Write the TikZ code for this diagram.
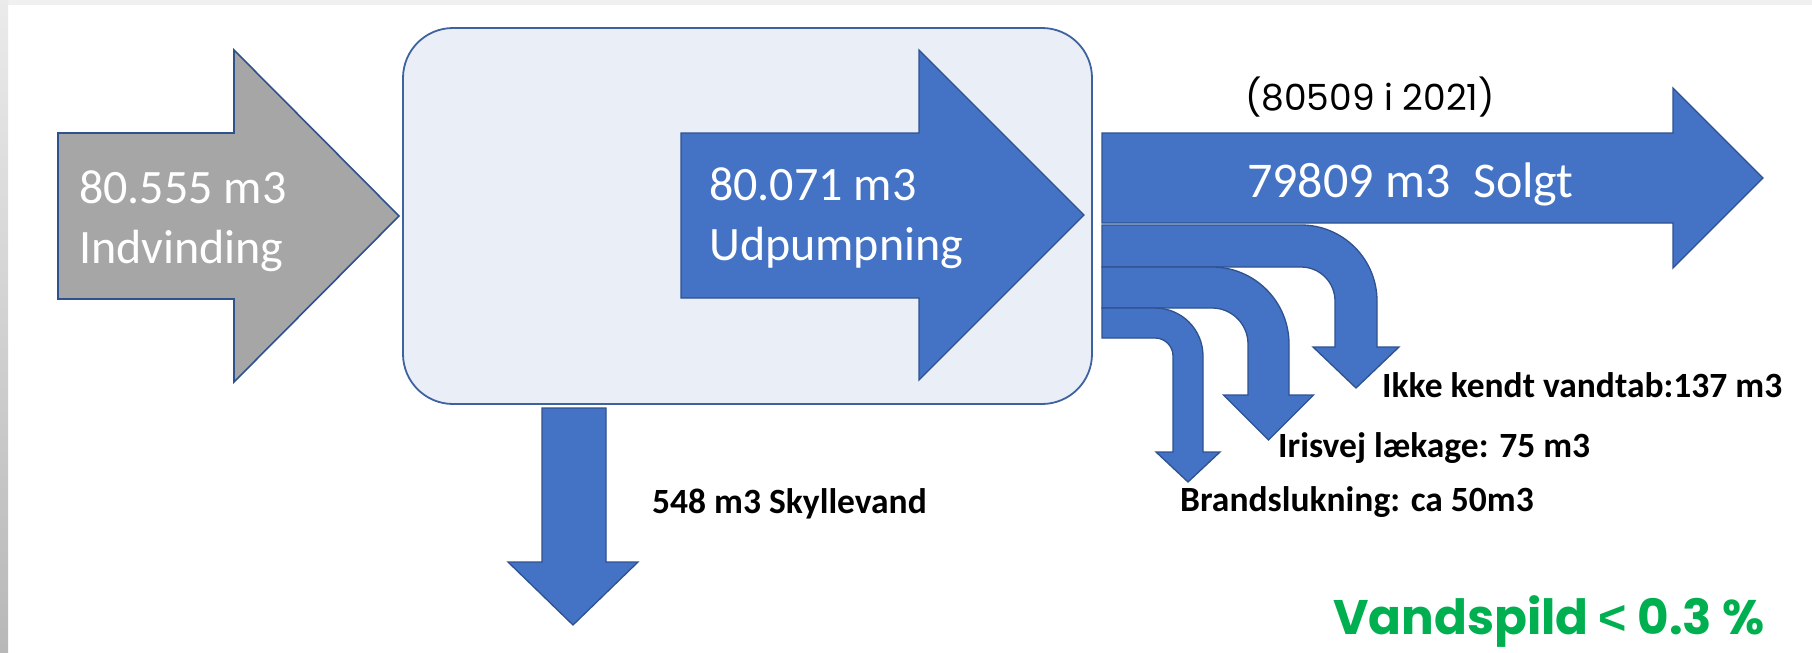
\documentclass[tikz,border=0pt]{standalone}
\usepackage{fontspec}
\setmainfont{Carlito}
\newfontfamily\geo{Poppins}
\newfontfamily\arialf{Liberation Sans}
\definecolor{ablue}{HTML}{4472C4}
\definecolor{aline}{HTML}{2F528F}
\definecolor{agrey}{HTML}{A6A6A6}
\definecolor{boxfill}{HTML}{EAEFF7}
\definecolor{boxline}{HTML}{3E62A0}
\definecolor{vgreen}{HTML}{00B050}
\tikzset{
  arrowshape/.style={draw=aline, line width=1.3pt, fill=ablue, line join=miter},
  greyshape/.style={draw=aline, line width=1.6pt, fill=agrey, line join=miter},
  boxshape/.style={draw=boxline, line width=1.8pt, fill=boxfill, rounded corners=50pt},
  wtxt/.style={inner sep=0pt, anchor=base west, text=white, font=\fontsize{48}{58}\selectfont},
  stxt/.style={inner sep=0pt, anchor=base west, text=white, font=\fontsize{50}{60}\selectfont},
  ltxt/.style={inner sep=0pt, anchor=base west, text=black, font=\bfseries\fontsize{35.5}{42}\selectfont},
  gtxt/.style={inner sep=0pt, anchor=base west, text=black, font=\geo\fontsize{36}{42}\selectfont},
  vtxt/.style={inner sep=0pt, anchor=base west, text=vgreen, font=\geo\bfseries\fontsize{48.5}{56}\selectfont}
}
% #1 top y, #2 width, #3 inner x of vertical shaft, #4 inner radius, #5 head base y, #6 head half width, #7 tip y
\newcommand\bentarr[7]{%
  \draw[arrowshape] (1102,#1) -- ({#3-#4},#1)
    arc[start angle=-90, end angle=0, radius={#4+#2}]
    -- ({#3+#2},#5) -- ({#3+#2/2+#6},#5) -- ({#3+#2/2},#7) -- ({#3+#2/2-#6},#5)
    -- (#3,#5) -- (#3,{#1+#2+#4})
    arc[start angle=0, end angle=-90, radius=#4]
    -- (1102,{#1+#2}) -- cycle;}
\begin{document}
\begin{tikzpicture}[x=1pt, y=-1pt]
\useasboundingbox (0,0) rectangle (1812,653);
\fill[white] (0,0) rectangle (1812,653);
\fill[black!6] (0,0) rectangle (1812,5);
\shade[top color=black!8, bottom color=black!28] (0,0) rectangle (8,653);

% intake arrow
\draw[greyshape] (58,133) -- (234,133) -- (234,50) -- (399,216) -- (234,382) -- (234,299) -- (58,299) -- cycle;
\node[wtxt] (in1) at (79,203) {80.555 m3};
\node[wtxt] (in2) at (79,263) {Indvinding};

% works box
\draw[boxshape] (403,28) rectangle (1092,404);

% pumped arrow
\draw[arrowshape] (681,133) -- (919,133) -- (919,50) -- (1084,215) -- (919,380) -- (919,298) -- (681,298) -- cycle;
\node[wtxt] (ud1) at (709,200) {80.071 m3};
\node[wtxt] (ud2) at (709,260) {Udpumpning};

% flushing water
\draw[arrowshape] (542,408) -- (606,408) -- (606,562) -- (638,562) -- (573,625) -- (508,562) -- (542,562) -- cycle;
\node[ltxt] (sk) at (652,513) {548 m3 Skyllevand};

% losses
\bentarr{225}{42}{1335}{34}{347}{43}{388}
\bentarr{267}{41}{1248}{36}{395}{45}{440}
\bentarr{308}{30}{1173}{18}{452}{32}{482}

% sold arrow
\draw[arrowshape] (1102,133) -- (1673,133) -- (1673,88) -- (1763,178) -- (1673,268) -- (1673,223) -- (1102,223) -- cycle;
\node[stxt] (so) at (1247,197) {79809 m3\ \ Solgt};
\node[gtxt] (yr) at (1245,110) {(80509 i 2021)};

\node[ltxt] (l1) at (1382,397) {Ikke kendt vandtab:137 m3};
\node[ltxt] (l2) at (1278,457) {Irisvej lækage: 75 m3};
\node[ltxt] (l3) at (1180,511) {Brandslukning: ca 50m3};

\node[vtxt] (vs) at (1333,634) {Vandspild {\arialf\bfseries <} 0.3 \%};
\end{tikzpicture}
\end{document}
